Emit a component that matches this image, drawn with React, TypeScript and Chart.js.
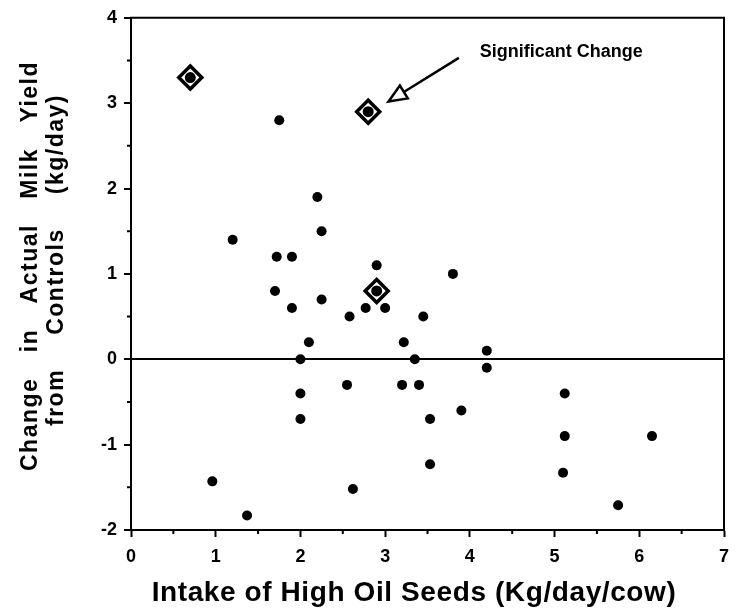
import React, { useEffect, useRef } from "react";
import { Chart, registerables } from "chart.js";

Chart.register(...registerables);

// ---- Data ----
const intakeX = [
  1.75, 2.2, 1.2, 2.25, 1.72, 1.9, 2.9, 3.8, 1.7, 2.25, 1.9, 2.77, 3.0, 2.58, 3.45,
  2.1, 3.22, 2.0, 3.35, 4.2, 4.2, 2.55, 3.2, 3.4, 2.0, 5.12, 3.9, 2.0, 3.53, 5.12,
  6.15, 3.53, 5.1, 0.96, 2.62, 5.75, 1.37,
];
const milkChange = [
  2.8, 1.9, 1.4, 1.5, 1.2, 1.2, 1.1, 1.0, 0.8, 0.7, 0.6, 0.6, 0.6, 0.5, 0.5,
  0.2, 0.2, 0.0, 0.0, 0.1, -0.1, -0.3, -0.3, -0.3, -0.4, -0.4, -0.6, -0.7, -0.7, -0.9,
  -0.9, -1.23, -1.33, -1.43, -1.52, -1.71, -1.83,
];
const sigX = [0.7, 2.8, 2.9];
const sigY = [3.3, 2.9, 0.8];

const xRange = [0, 7];
const yRange = [-2, 4];
const minorXTicks = [0.5, 1.5, 2.5, 3.5, 4.5, 5.5, 6.5];
const minorYTicks = [-1.5, -0.5, 0.5, 1.5, 2.5, 3.5];

const annotationText = "Significant Change";
const arrowTail = [3.87, 3.53];
const arrowTip = [3.04, 3.02];
const annotationAt = [5.08, 3.6];

const xTitle = "Intake of High Oil Seeds (Kg/day/cow)";
const yTitleLine1 = ["Change", "in", "Actual", "Milk", "Yield"];
const yTitleLine2 = ["from", "Controls", "(kg/day)"];

const FONT = "'Liberation Sans', Arial, Helvetica, sans-serif";

export default function App() {
  const ref = useRef<HTMLCanvasElement>(null);

  useEffect(() => {
    const canvas = ref.current;
    if (!canvas) return;

    const decor = {
      id: "decor",
      afterDraw(chart: any) {
        const { ctx, chartArea: a, scales } = chart;
        const xs = scales.x;
        const ys = scales.y;
        ctx.save();
        ctx.strokeStyle = "#000";
        ctx.lineWidth = 2;
        // top and right frame
        ctx.beginPath();
        ctx.moveTo(a.left - 1, a.top);
        ctx.lineTo(a.right, a.top);
        ctx.lineTo(a.right, a.bottom + 1);
        ctx.stroke();
        // minor ticks
        ctx.beginPath();
        for (const v of minorYTicks) {
          const py = ys.getPixelForValue(v);
          ctx.moveTo(a.left - 4, py);
          ctx.lineTo(a.left, py);
        }
        for (const v of minorXTicks) {
          const px = xs.getPixelForValue(v);
          ctx.moveTo(px, a.bottom);
          ctx.lineTo(px, a.bottom + 4);
        }
        ctx.stroke();

        // arrow
        const tx = xs.getPixelForValue(arrowTail[0]);
        const ty = ys.getPixelForValue(arrowTail[1]);
        const px = xs.getPixelForValue(arrowTip[0]);
        const py = ys.getPixelForValue(arrowTip[1]);
        const ang = Math.atan2(py - ty, px - tx);
        const L = 18;
        const W = 7.5;
        const bx = px - L * Math.cos(ang);
        const by = py - L * Math.sin(ang);
        ctx.lineWidth = 2.5;
        ctx.beginPath();
        ctx.moveTo(tx, ty);
        ctx.lineTo(bx, by);
        ctx.stroke();
        ctx.beginPath();
        ctx.moveTo(px, py);
        ctx.lineTo(bx + W * Math.sin(ang), by - W * Math.cos(ang));
        ctx.lineTo(bx - W * Math.sin(ang), by + W * Math.cos(ang));
        ctx.closePath();
        ctx.fillStyle = "#fff";
        ctx.fill();
        ctx.stroke();

        // annotation text
        ctx.fillStyle = "#000";
        ctx.font = `bold 18px ${FONT}`;
        ctx.textAlign = "center";
        ctx.textBaseline = "middle";
        ctx.fillText(
          annotationText,
          xs.getPixelForValue(annotationAt[0]),
          ys.getPixelForValue(annotationAt[1])
        );

        // x title
        ctx.font = `bold 28px ${FONT}`;
        (ctx as any).letterSpacing = "0.6px";
        ctx.fillText(xTitle, 414, 593);

        // y title (rotated, spread words)
        const drawSpread = (words: string[], cx: number, cy: number, span: number) => {
          ctx.save();
          ctx.translate(cx, cy);
          ctx.rotate(-Math.PI / 2);
          ctx.font = `bold 23px ${FONT}`;
          (ctx as any).letterSpacing = "1.5px";
          ctx.textAlign = "left";
          const widths = words.map((w) => ctx.measureText(w).width);
          const total = widths.reduce((s, w) => s + w, 0);
          const gap = (span - total) / (words.length - 1);
          let x = -span / 2;
          words.forEach((w, i) => {
            ctx.fillText(w, x, 0);
            x += widths[i] + gap;
          });
          ctx.restore();
        };
        drawSpread(yTitleLine1, 31, 266, 410);
        drawSpread(yTitleLine2, 57, 260, 332);

        ctx.restore();
      },
    };

    const chart = new Chart(canvas, {
      type: "scatter",
      data: {
        datasets: [
          {
            label: "sig dots",
            data: sigX.map((x, i) => ({ x, y: sigY[i] })),
            pointStyle: "circle",
            pointRadius: 5.5,
            backgroundColor: "#000",
            borderWidth: 0,
          },
          {
            label: "studies",
            data: intakeX.map((x, i) => ({ x, y: milkChange[i] })),
            pointStyle: "circle",
            pointRadius: 5,
            backgroundColor: "#000",
            borderWidth: 0,
          },
          {
            label: "significant",
            data: sigX.map((x, i) => ({ x, y: sigY[i] })),
            pointStyle: "rectRot",
            pointRadius: 11.5,
            backgroundColor: "#fff",
            borderColor: "#000",
            borderWidth: 3.5,
          },
        ],
      },
      options: {
        responsive: false,
        animation: false,
        events: [],
        layout: { padding: { left: 0, right: 12, top: 13, bottom: 0 } },
        plugins: { legend: { display: false }, tooltip: { enabled: false } },
        scales: {
          x: {
            type: "linear",
            min: xRange[0],
            max: xRange[1],
            afterFit: (s: any) => {
              s.height = 84;
            },
            ticks: {
              stepSize: 1,
              color: "#000",
              padding: 9,
              font: { family: FONT, size: 18, weight: "bold" },
            },
            grid: {
              drawOnChartArea: false,
              drawTicks: true,
              tickLength: 7,
              tickWidth: 2,
              tickColor: "#000",
            },
            border: { display: true, color: "#000", width: 2 },
            title: { display: false },
          },
          y: {
            type: "linear",
            min: yRange[0],
            max: yRange[1],
            afterFit: (s: any) => {
              s.width = 131;
            },
            ticks: {
              stepSize: 1,
              color: "#000",
              padding: 7,
              font: { family: FONT, size: 18, weight: "bold" },
            },
            grid: {
              drawOnChartArea: true,
              color: (c: any) => (c.tick && c.tick.value === 0 ? "#000" : "rgba(0,0,0,0)"),
              lineWidth: 2,
              drawTicks: true,
              tickLength: 7,
              tickWidth: 2,
              tickColor: "#000",
            },
            border: { display: true, color: "#000", width: 2 },
            title: { display: false },
          },
        },
      },
      plugins: [decor],
    });

    return () => chart.destroy();
  }, []);

  return (
    <div style={{ position: "absolute", left: 0, top: 0, width: 739, height: 614, background: "#fff" }}>
      <canvas ref={ref} width={739} height={614} />
    </div>
  );
}
